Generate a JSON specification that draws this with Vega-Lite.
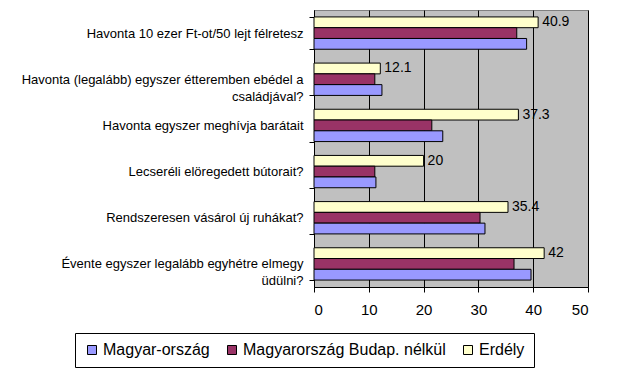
{
  "$schema": "https://vega.github.io/schema/vega-lite/v6.json",
  "width": 274,
  "height": 277,
  "autosize": "none",
  "padding": {"left": 314, "top": 10, "right": 29, "bottom": 98},
  "background": "white",
  "config": {
    "font": "Liberation Sans",
    "view": {"fill": "#C0C0C0", "stroke": "#808080", "strokeWidth": 1}
  },
  "data": {
    "values": [
      {"q": "Havonta 10 ezer Ft-ot/50 lejt félretesz", "series": "Erdély", "value": 40.9},
      {"q": "Havonta 10 ezer Ft-ot/50 lejt félretesz", "series": "Magyarország Budap. nélkül", "value": 37.0},
      {"q": "Havonta 10 ezer Ft-ot/50 lejt félretesz", "series": "Magyar-ország", "value": 38.8},
      {"q": "Havonta (legalább) egyszer étteremben ebédel a\ncsaládjával?", "series": "Erdély", "value": 12.1},
      {"q": "Havonta (legalább) egyszer étteremben ebédel a\ncsaládjával?", "series": "Magyarország Budap. nélkül", "value": 11.1},
      {"q": "Havonta (legalább) egyszer étteremben ebédel a\ncsaládjával?", "series": "Magyar-ország", "value": 12.4},
      {"q": "Havonta egyszer meghívja barátait", "series": "Erdély", "value": 37.3},
      {"q": "Havonta egyszer meghívja barátait", "series": "Magyarország Budap. nélkül", "value": 21.5},
      {"q": "Havonta egyszer meghívja barátait", "series": "Magyar-ország", "value": 23.5},
      {"q": "Lecseréli elöregedett bútorait?", "series": "Erdély", "value": 20},
      {"q": "Lecseréli elöregedett bútorait?", "series": "Magyarország Budap. nélkül", "value": 11.1},
      {"q": "Lecseréli elöregedett bútorait?", "series": "Magyar-ország", "value": 11.3},
      {"q": "Rendszeresen vásárol új ruhákat?", "series": "Erdély", "value": 35.4},
      {"q": "Rendszeresen vásárol új ruhákat?", "series": "Magyarország Budap. nélkül", "value": 30.3},
      {"q": "Rendszeresen vásárol új ruhákat?", "series": "Magyar-ország", "value": 31.2},
      {"q": "Évente egyszer legalább egyhétre elmegy\nüdülni?", "series": "Erdély", "value": 42},
      {"q": "Évente egyszer legalább egyhétre elmegy\nüdülni?", "series": "Magyarország Budap. nélkül", "value": 36.5},
      {"q": "Évente egyszer legalább egyhétre elmegy\nüdülni?", "series": "Magyar-ország", "value": 39.6}
    ]
  },
  "encoding": {
    "y": {
      "field": "q",
      "type": "nominal",
      "sort": null,
      "scale": {"paddingInner": 0.3, "paddingOuter": 0.15},
      "axis": {
        "title": null,
        "labelExpr": "split(datum.label, '\\n')",
        "labelFontSize": 13,
        "labelColor": "black",
        "labelPadding": 6,
        "tickBand": "extent",
        "tickColor": "black",
        "domainColor": "black",
        "tickSize": 5,
        "labelLimit": 400,
        "labelLineHeight": 17
      }
    },
    "x": {
      "field": "value",
      "type": "quantitative",
      "scale": {"domain": [0, 50]},
      "axis": {
        "title": null,
        "values": [0, 10, 20, 30, 40, 50],
        "grid": true,
        "gridColor": "black",
        "gridOpacity": 1,
        "domainColor": "black",
        "tickColor": "black",
        "tickSize": 5,
        "labelFontSize": 15,
        "labelColor": "black",
        "labelPadding": 10
      }
    },
    "yOffset": {
      "field": "series",
      "type": "nominal",
      "sort": ["Erdély", "Magyarország Budap. nélkül", "Magyar-ország"],
      "scale": {"paddingInner": 0, "paddingOuter": 0}
    }
  },
  "layer": [
    {
      "mark": {"type": "bar", "stroke": "black", "strokeWidth": 1},
      "encoding": {
        "color": {
          "field": "series",
          "type": "nominal",
          "scale": {
            "domain": ["Magyar-ország", "Magyarország Budap. nélkül", "Erdély"],
            "range": ["#9999FF", "#993366", "#FFFFCC"]
          },
          "legend": {
            "title": null,
            "orient": "none",
            "legendX": -239,
            "legendY": 323,
            "direction": "horizontal",
            "symbolType": "square",
            "symbolSize": 81,
            "symbolStrokeColor": "black",
            "symbolStrokeWidth": 1,
            "symbolOpacity": 1,
            "labelFontSize": 16,
            "labelColor": "black",
            "labelOffset": 3,
            "labelLimit": 400,
            "strokeColor": "black",
            "fillColor": "white",
            "padding": 9,
            "columnPadding": 14
          }
        }
      }
    },
    {
      "transform": [{"filter": "datum.series === 'Erdély'"}],
      "mark": {"type": "text", "align": "left", "dx": 4, "fontSize": 14, "color": "black"},
      "encoding": {"text": {"field": "value", "type": "quantitative"}}
    }
  ]
}
